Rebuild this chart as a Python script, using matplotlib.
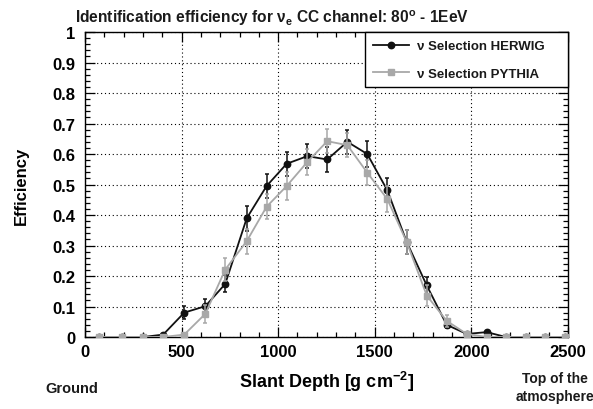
import numpy as np
import matplotlib

matplotlib.use("Agg")
import matplotlib.pyplot as plt
from matplotlib.ticker import MultipleLocator, FormatStrFormatter

# Slant depth bin centres [g cm^-2] and efficiencies
depth = [74, 191, 302, 405, 514, 623, 726, 837, 940, 1044, 1151, 1254,
         1358, 1461, 1565, 1665, 1769, 1872, 1976, 2079, 2179, 2283, 2383, 2486]
herwig = [0, 0, 0, 0.008, 0.080, 0.101, 0.174, 0.389, 0.495, 0.568, 0.593, 0.582,
          0.640, 0.600, 0.481, 0.312, 0.169, 0.040, 0.010, 0.016, 0, 0, 0, 0]
herwig_err = [0, 0, 0, 0.003, 0.022, 0.025, 0.028, 0.040, 0.040, 0.040, 0.040, 0.042,
              0.040, 0.041, 0.040, 0.040, 0.028, 0.012, 0.005, 0.005, 0, 0, 0, 0]
pythia = [0, 0, 0, 0, 0.008, 0.076, 0.221, 0.314, 0.427, 0.495, 0.574, 0.642,
          0.629, 0.539, 0.452, 0.312, 0.136, 0.053, 0.010, 0, 0, 0, 0, 0]
pythia_err = [0, 0, 0, 0, 0.004, 0.030, 0.037, 0.041, 0.041, 0.045, 0.042, 0.040,
              0.040, 0.040, 0.042, 0.040, 0.034, 0.020, 0.006, 0, 0, 0, 0, 0]

HERWIG_COLOR = "#111111"
PYTHIA_COLOR = "#a8a8a8"

plt.rcParams.update({
    "font.family": ["Liberation Sans", "DejaVu Sans"],
    "font.weight": "bold",
    "mathtext.default": "regular",
    "text.color": "#1a1a1a",
})

fig = plt.figure(figsize=(5.93, 4.10), dpi=100)
ax = fig.add_axes([0.1433, 0.1756, 0.8145, 0.7439])

ax.errorbar(depth, herwig, yerr=herwig_err, fmt="none", ecolor=HERWIG_COLOR,
            elinewidth=1.1, capsize=1.6, capthick=1.1, zorder=2)
ax.plot(depth, herwig, color=HERWIG_COLOR, lw=1.3, marker="o", ms=4.6,
        zorder=3, label="ν Selection HERWIG")
ax.errorbar(depth, pythia, yerr=pythia_err, fmt="none", ecolor=PYTHIA_COLOR,
            elinewidth=1.1, capsize=1.6, capthick=1.1, zorder=4)
ax.plot(depth, pythia, color=PYTHIA_COLOR, lw=1.3, marker="s", ms=4.6,
        zorder=5, label="ν Selection PYTHIA")

ax.set_xlim(0, 2500)
ax.set_ylim(0, 1)
ax.xaxis.set_major_locator(MultipleLocator(500))
ax.xaxis.set_minor_locator(MultipleLocator(100))
ax.yaxis.set_major_locator(MultipleLocator(0.1))
ax.yaxis.set_minor_locator(MultipleLocator(0.02))
ax.yaxis.set_major_formatter(FormatStrFormatter("%g"))
ax.tick_params(which="both", direction="in", top=True, right=True, width=0.9)
ax.tick_params(which="major", length=7.5, labelsize=12)
ax.tick_params(which="minor", length=3.8)
ax.tick_params(axis="x", which="major", pad=5)
ax.tick_params(axis="y", which="major", pad=7)
for s in ax.spines.values():
    s.set_linewidth(1.0)
ax.grid(True, which="major", color="black", ls=(0, (1, 2.5)), lw=0.8)
ax.set_axisbelow(True)

ax.set_title("Identification efficiency for ν$_{e}$ CC channel: 80$^{o}$ - 1EeV",
             fontsize=11.2, fontweight="bold", loc="left", x=-0.02, pad=7)
ax.set_ylabel("Efficiency", fontsize=12, fontweight="bold", labelpad=17)
ax.set_xlabel("Slant Depth [g cm$^{-2}$]", fontsize=13, fontweight="bold", labelpad=7)

fig.text(45 / 593, 1 - 389 / 410, "Ground", fontsize=10.5, fontweight="bold",
         ha="left", va="center")
fig.text(555 / 593, 1 - 388 / 410, "Top of the\natmosphere", fontsize=10,
         fontweight="bold", ha="center", va="center", linespacing=1.3)

leg = ax.legend(loc="upper right", bbox_to_anchor=(0.58, 0.81, 0.42, 0.19),
                mode="expand", fontsize=9.5, frameon=True, fancybox=False,
                edgecolor="black", framealpha=1, borderaxespad=0,
                handlelength=2.7, handletextpad=0.6, labelspacing=1.15,
                borderpad=0.6)
leg.get_frame().set_linewidth(1.0)
for t in leg.get_texts():
    t.set_fontweight("bold")

fig.savefig("out.png", dpi=100)
